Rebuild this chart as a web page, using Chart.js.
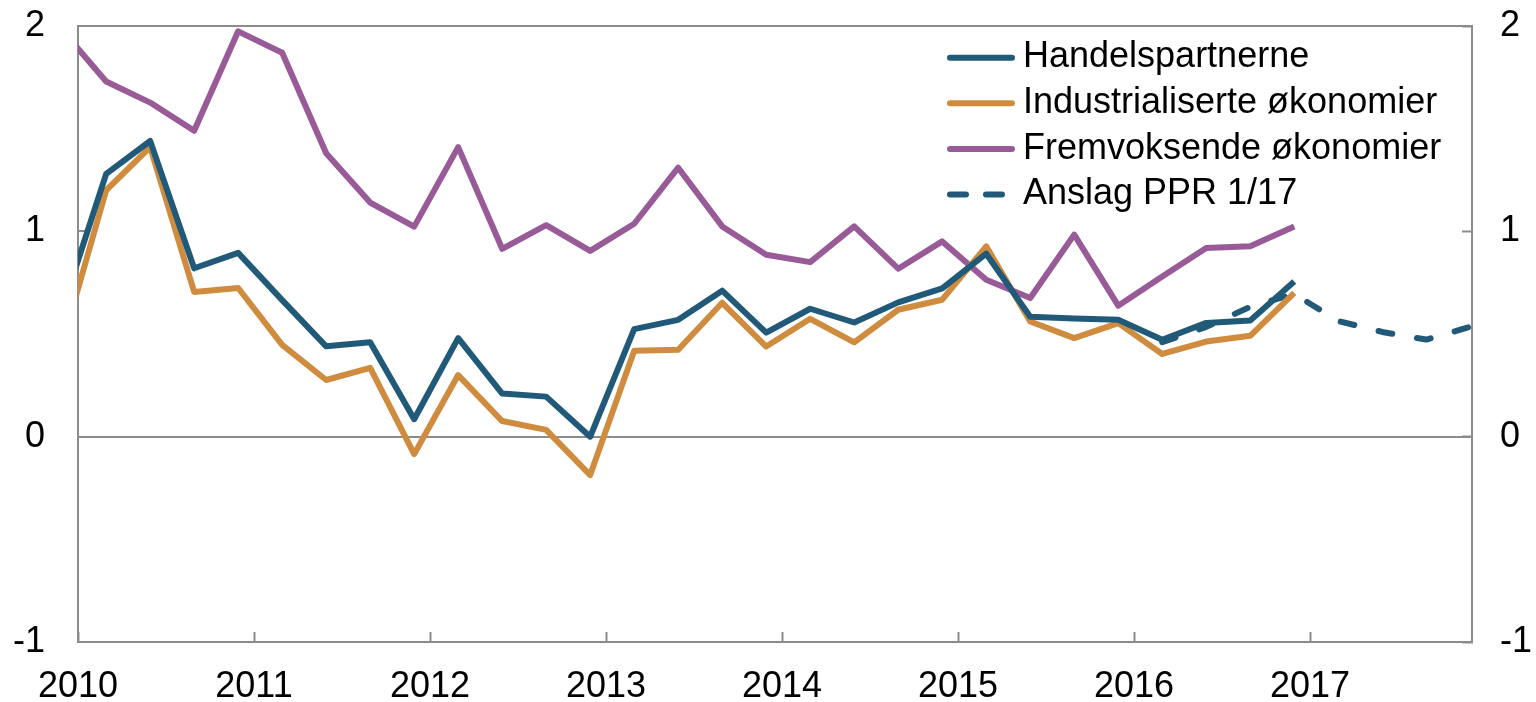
<!DOCTYPE html>
<html>
<head>
<meta charset="utf-8">
<script src="https://cdn.jsdelivr.net/npm/chart.js@4/dist/chart.umd.min.js"></script>
<style>
  html, body { margin: 0; padding: 0; background: #ffffff; }
  #wrap { width: 1536px; height: 702px; }
</style>
</head>
<body>
<div id="wrap"><canvas id="c" width="1536" height="702"></canvas></div>
<script>
// ---- Data (quarterly) ----
const quarters = [
  '2009K4',
  '2010K1','2010K2','2010K3','2010K4',
  '2011K1','2011K2','2011K3','2011K4',
  '2012K1','2012K2','2012K3','2012K4',
  '2013K1','2013K2','2013K3','2013K4',
  '2014K1','2014K2','2014K3','2014K4',
  '2015K1','2015K2','2015K3','2015K4',
  '2016K1','2016K2','2016K3','2016K4'
];
const handelspartnerne = [
  0.62,
  1.28, 1.44, 0.82, 0.895,
  0.665, 0.44, 0.46, 0.085,
  0.48, 0.21, 0.195, 0.0,
  0.524, 0.569, 0.711, 0.507,
  0.623, 0.556, 0.654, 0.722,
  0.891, 0.584, 0.575, 0.569,
  0.472, 0.554, 0.566, 0.756
];
const industrialiserte = [
  0.45,
  1.20, 1.41, 0.705, 0.724,
  0.447, 0.276, 0.335, -0.085,
  0.30, 0.076, 0.033, -0.187,
  0.418, 0.423, 0.652, 0.439,
  0.574, 0.459, 0.618, 0.667,
  0.927, 0.561, 0.48, 0.553,
  0.403, 0.463, 0.491, 0.70
];
const fremvoksende = [
  1.98,
  1.73, 1.627, 1.49, 1.974,
  1.87, 1.38, 1.14, 1.023,
  1.41, 0.915, 1.03, 0.905,
  1.037, 1.31, 1.024, 0.886,
  0.85, 1.024, 0.818, 0.951,
  0.764, 0.675, 0.984, 0.638,
  0.78, 0.919, 0.927, 1.024
];
const anslagQuarters = ['2016K1','2016K2','2016K3','2016K4','2017K1','2017K2','2017K3','2017K4'];
const anslag = [0.46, 0.535, 0.632, 0.695, 0.563, 0.51, 0.473, 0.535];

const seriesLabels = ['Handelspartnerne', 'Industrialiserte økonomier', 'Fremvoksende økonomier', 'Anslag PPR 1/17'];
const yearTicks = [2010, 2011, 2012, 2013, 2014, 2015, 2016, 2017];
const yTicks = [-1, 0, 1, 2];

// ---- Styling ----
const FONT = '"Liberation Sans", Arial, sans-serif';
const GRAY = '#8c8c8c';
const BLUE = '#215a78';
const ORANGE = '#d08c3e';
const PURPLE = '#985b98';
const LW = 6;

// quarter label -> position on a year axis (mid-quarter placement)
function qx(label) {
  const y = parseInt(label.slice(0, 4), 10);
  const q = parseInt(label.slice(5), 10);
  return y + (q - 1) / 4 + 0.16;
}
function pts(labels, vals) {
  return labels.map((l, i) => ({ x: qx(l), y: vals[i] }));
}

const legendPlugin = {
  id: 'customLegend',
  afterDraw(chart) {
    const ctx = chart.ctx;
    ctx.save();
    chart.data.datasets.forEach((ds, i) => {
      const ly = 57.7 + 45.6 * i;
      ctx.strokeStyle = ds.borderColor;
      ctx.lineWidth = LW;
      ctx.lineCap = 'round';
      ctx.setLineDash(ds.borderDash && ds.borderDash.length ? [16, 20] : []);
      ctx.beginPath();
      ctx.moveTo(950, ly);
      ctx.lineTo(1012, ly);
      ctx.stroke();
      ctx.setLineDash([]);
      ctx.fillStyle = '#000';
      ctx.font = '36px ' + FONT;
      ctx.textAlign = 'left';
      ctx.textBaseline = 'alphabetic';
      ctx.fillText(ds.label, 1023, ly + 9.6);
    });
    ctx.restore();
  }
};

const frameTop = {
  id: 'frameTop',
  afterDraw(chart) {
    const { ctx, chartArea: a } = chart;
    ctx.save();
    ctx.strokeStyle = GRAY;
    ctx.lineWidth = 2;
    ctx.beginPath();
    ctx.moveTo(a.left, a.top);
    ctx.lineTo(a.right + 1, a.top);
    ctx.stroke();
    ctx.restore();
  }
};

function zeroPad(s) { s.paddingTop = 0; s.paddingBottom = 0; s.paddingLeft = 0; s.paddingRight = 0; }

const tickFont = { family: FONT, size: 36 };

new Chart(document.getElementById('c'), {
  type: 'line',
  data: {
    datasets: [
      { label: seriesLabels[0], data: pts(quarters, handelspartnerne), borderColor: BLUE, borderWidth: LW, clip: 0 },
      { label: seriesLabels[1], data: pts(quarters, industrialiserte), borderColor: ORANGE, borderWidth: LW, clip: 0 },
      { label: seriesLabels[2], data: pts(quarters, fremvoksende), borderColor: PURPLE, borderWidth: LW, clip: 0 },
      { label: seriesLabels[3], data: pts(anslagQuarters, anslag), borderColor: BLUE, borderWidth: LW, borderDash: [14, 25], borderCapStyle: 'round', clip: 0 }
    ]
  },
  options: {
    responsive: false,
    animation: false,
    devicePixelRatio: 1,
    layout: { padding: { top: 26, left: 0, right: 0, bottom: 0 } },
    elements: {
      point: { radius: 0, hoverRadius: 0 },
      line: { tension: 0, borderJoinStyle: 'round', fill: false }
    },
    plugins: { legend: { display: false }, tooltip: { enabled: false } },
    scales: {
      x: {
        type: 'linear', position: 'bottom', min: 2010, max: 2017.92,
        afterBuildTicks: s => { s.ticks = yearTicks.map(v => ({ value: v })); },
        afterFit: s => { s.height = 60; zeroPad(s); },
        ticks: { callback: v => String(v), font: tickFont, color: '#000', padding: 33, maxRotation: 0, autoSkip: false },
        grid: { drawOnChartArea: false, tickLength: -10, tickColor: GRAY, tickWidth: 2 },
        border: { color: GRAY, width: 2 }
      },
      y: {
        type: 'linear', position: 'left', min: -1, max: 2,
        afterBuildTicks: s => { s.ticks = yTicks.map(v => ({ value: v })); },
        afterFit: s => { s.width = 78; zeroPad(s); },
        ticks: { callback: v => String(v), font: tickFont, color: '#000', padding: 43 },
        grid: {
          color: c => (c.tick && c.tick.value === 0) ? GRAY : 'rgba(0,0,0,0)',
          lineWidth: 2, tickLength: -10, tickColor: GRAY, tickWidth: 2
        },
        border: { color: GRAY, width: 2 }
      },
      y2: {
        type: 'linear', position: 'right', min: -1, max: 2,
        afterBuildTicks: s => { s.ticks = yTicks.map(v => ({ value: v })); },
        afterFit: s => { s.width = 64; zeroPad(s); },
        ticks: { callback: v => String(v), font: tickFont, color: '#000', padding: 38 },
        grid: { drawOnChartArea: false, tickLength: -10, tickColor: GRAY, tickWidth: 2 },
        border: { color: GRAY, width: 2 }
      }
    }
  },
  plugins: [legendPlugin, frameTop]
});
</script>
</body>
</html>
